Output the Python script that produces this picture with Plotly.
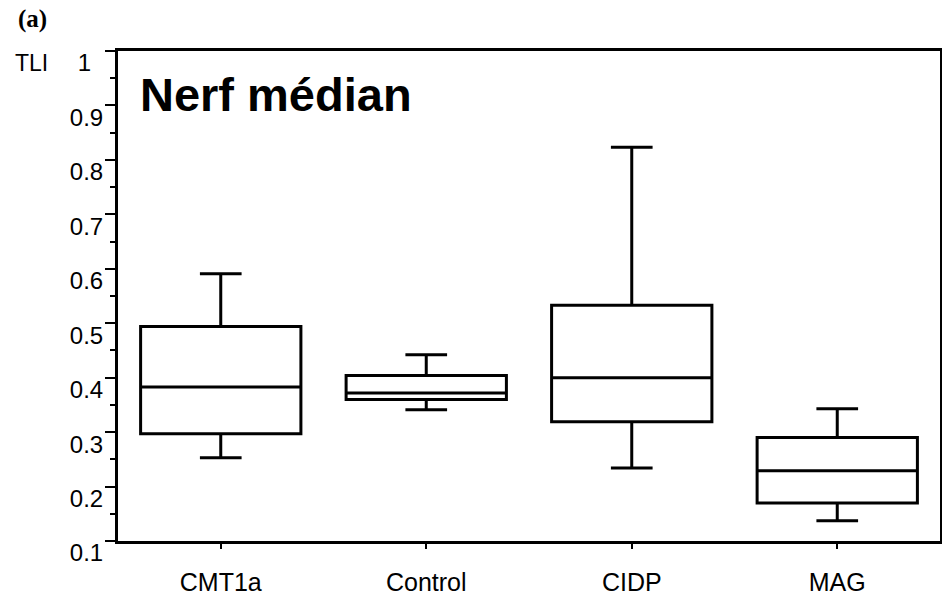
import plotly.graph_objects as go

categories = ["CMT1a", "Control", "CIDP", "MAG"]
positions = [0, 1, 2, 3]
lower_whisker = [0.253, 0.341, 0.234, 0.137]
q1_values = [0.297, 0.360, 0.319, 0.170]
median_values = [0.383, 0.372, 0.400, 0.229]
q3_values = [0.494, 0.404, 0.533, 0.290]
upper_whisker = [0.591, 0.442, 0.823, 0.343]

y_tickvals = [0.1, 0.2, 0.3, 0.4, 0.5, 0.6, 0.7, 0.8, 0.9, 1.0]
y_ticktext = ["0.1", "0.2", "0.3", "0.4", "0.5", "0.6", "0.7", "0.8", "0.9", "1\u2002"]

W, H = 942, 595
ML, MR, MT, MB = 118, 2, 51, 54
plot_w = W - ML - MR
plot_h = H - MT - MB

fig = go.Figure()
fig.add_trace(go.Box(
    x=positions,
    q1=q1_values,
    median=median_values,
    q3=q3_values,
    lowerfence=lower_whisker,
    upperfence=upper_whisker,
    width=0.78,
    whiskerwidth=0.26,
    fillcolor="white",
    line=dict(color="black", width=3),
    boxpoints=False,
    showlegend=False,
    hoverinfo="skip",
))

font = "Liberation Sans, Arial, sans-serif"

fig.update_layout(
    width=W, height=H,
    margin=dict(l=ML, r=MR, t=MT, b=MB, pad=0),
    paper_bgcolor="white",
    plot_bgcolor="white",
    font=dict(family=font, color="black", size=24),
    xaxis=dict(
        range=[-0.5, 3.5],
        tickvals=positions,
        ticktext=categories,
        ticks="outside", ticklen=5, tickwidth=2, tickcolor="black",
        showline=True, linewidth=3, linecolor="black", mirror=True,
        showgrid=False, zeroline=False,
        tickfont=dict(size=25, family=font),
        ticklabelstandoff=12,
        automargin=False,
    ),
    yaxis=dict(
        range=[0.1, 1.0],
        tickvals=y_tickvals,
        ticktext=y_ticktext,
        ticks="outside", ticklen=10, tickwidth=2, tickcolor="black",
        minor=dict(dtick=0.05, ticks="outside", ticklen=5, tickwidth=2, tickcolor="black", showgrid=False),
        showline=True, linewidth=3, linecolor="black", mirror=True,
        showgrid=False, zeroline=False,
        tickfont=dict(size=24, family=font),
        ticklabelshift=12,
        ticklabelstandoff=-3,
        automargin=False,
    ),
    annotations=[
        dict(text="<b>Nerf médian</b>", xref="paper", yref="paper",
             x=(138 - ML) / plot_w, y=(H - MB - 94) / plot_h,
             xanchor="left", yanchor="middle", showarrow=False,
             font=dict(size=47, family=font, color="black")),
        dict(text="TLI", xref="paper", yref="paper",
             x=(31 - ML) / plot_w, y=(H - MB - 63) / plot_h,
             xanchor="center", yanchor="middle", showarrow=False,
             font=dict(size=23, family=font, color="black")),
        dict(text="<b>(a)</b>", xref="paper", yref="paper",
             x=(32 - ML) / plot_w, y=(H - MB - 19) / plot_h,
             xanchor="center", yanchor="middle", showarrow=False,
             font=dict(size=25, family="Liberation Serif, Times New Roman, serif", color="black")),
    ],
)

fig.write_html(
    "out.html",
    config={"displayModeBar": False},
    post_script="document.body.style.margin='0';document.body.style.overflow='hidden';",
)
